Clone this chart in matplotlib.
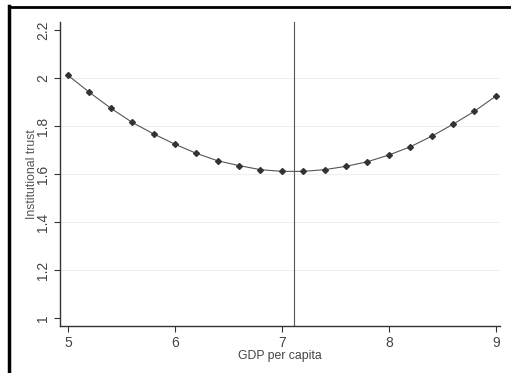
import numpy as np
import matplotlib.pyplot as plt
from matplotlib.lines import Line2D

plt.rcParams['font.family'] = ['Liberation Sans', 'DejaVu Sans']

# data
gdp = [5.0, 5.2, 5.4, 5.6, 5.8, 6.0, 6.2, 6.4, 6.6, 6.8, 7.0,
       7.2, 7.4, 7.6, 7.8, 8.0, 8.2, 8.4, 8.6, 8.8, 9.0]
trust = [2.011, 1.940, 1.874, 1.815, 1.767, 1.724, 1.686, 1.655, 1.635, 1.618, 1.611,
         1.611, 1.618, 1.632, 1.651, 1.679, 1.713, 1.757, 1.807, 1.861, 1.924]
turning = 7.11
xticks = [5, 6, 7, 8, 9]
yticks = [1, 1.2, 1.4, 1.6, 1.8, 2, 2.2]
ylabels = ['1', '1.2', '1.4', '1.6', '1.8', '2', '2.2']

fig = plt.figure(figsize=(5.11, 3.73), dpi=100)
ax = fig.add_axes([60/511, 47/373, 440/511, 304/373])

for yv in yticks[1:-1]:
    ax.axhline(yv, color='#eeeeee', lw=0.8, zorder=0)

ax.plot(gdp, trust, color='#555555', lw=0.8, zorder=2)
ax.plot(gdp, trust, ls='none', marker='D', ms=3.0, color='#333333', zorder=3)
ax.axvline(turning, color='#555555', lw=0.8, zorder=1)

ax.set_xlim(4.925, 9.04)
ax.set_ylim(0.967, 2.233)
ax.set_xticks(xticks)
ax.set_xticklabels([str(v) for v in xticks])
ax.set_yticks(yticks)
ax.set_yticklabels(ylabels, rotation=90, va='center')

for s in ['top', 'right']:
    ax.spines[s].set_visible(False)
for s in ['left', 'bottom']:
    ax.spines[s].set_color('#333333')
    ax.spines[s].set_linewidth(1.0)

ax.tick_params(axis='both', direction='out', length=4, width=0.8, color='#333333',
               labelsize=10, labelcolor='#444444', pad=3)
ax.set_xlabel('GDP per capita', fontsize=8.8, color='#444444', labelpad=0)
ax.set_ylabel('Institutional trust', fontsize=8.8, color='#555555', labelpad=-1)

# frame remnants on left and top edge
fig.add_artist(Line2D([9/511, 9/511], [0, 1 - 6/373], color='black', lw=2.5))
fig.add_artist(Line2D([9/511, 1], [1 - 7/373, 1 - 7/373], color='black', lw=2))

fig.savefig('out.png', dpi=100)
